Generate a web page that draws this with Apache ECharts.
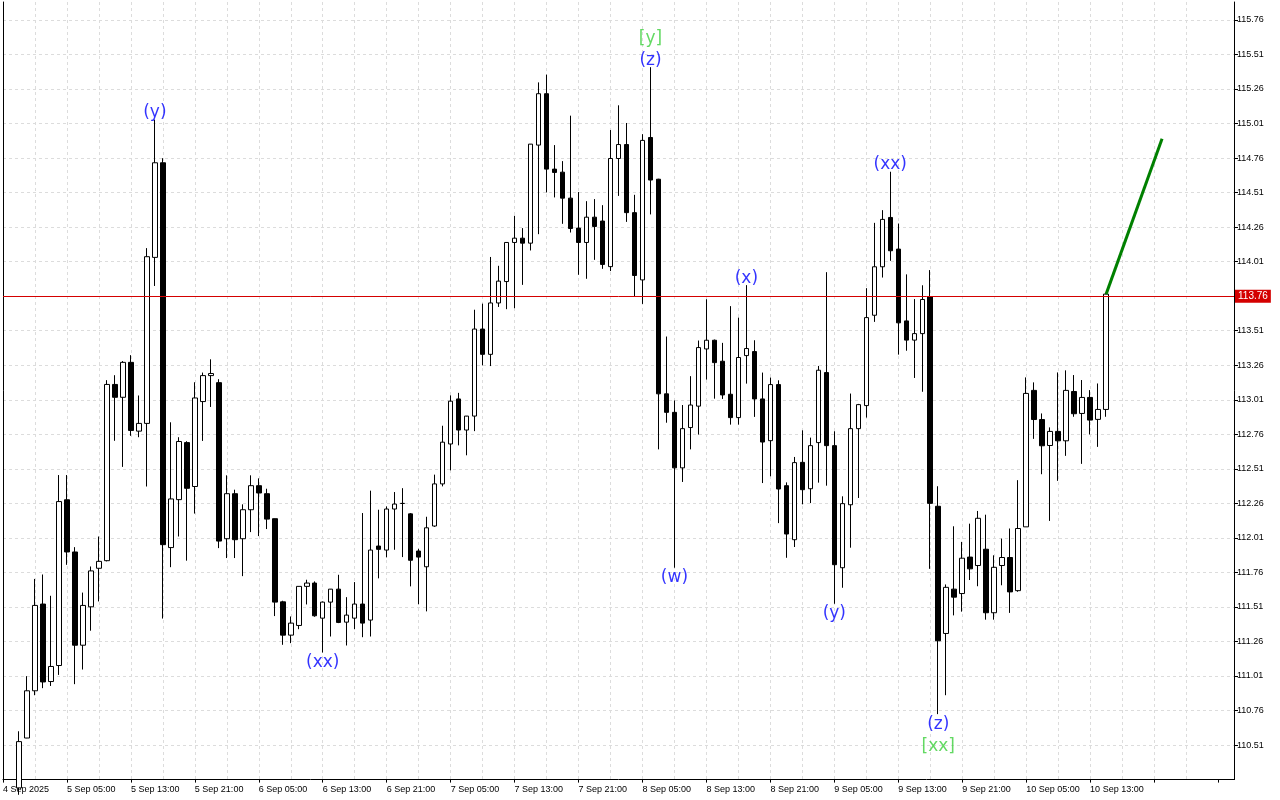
<!DOCTYPE html>
<html>
<head>
<meta charset="utf-8">
<title>H1 chart</title>
<script src="https://cdn.jsdelivr.net/npm/echarts@6/dist/echarts.min.js"></script>
<style>
  html, body { margin: 0; padding: 0; background: #fff; }
  #chart { width: 1280px; height: 800px; }
</style>
</head>
<body>
<div id="chart"></div>
<script>
// hourly bars; slot 0 is 4 Sep 21:00, the first drawn bar sits in slot 2
const firstBar = 2
const totalSlots = 155

const tickLabels = ['4 Sep 2025', '5 Sep 05:00', '5 Sep 13:00', '5 Sep 21:00', '6 Sep 05:00', '6 Sep 13:00',
  '6 Sep 21:00', '7 Sep 05:00', '7 Sep 13:00', '7 Sep 21:00', '8 Sep 05:00', '8 Sep 13:00',
  '8 Sep 21:00', '9 Sep 05:00', '9 Sep 13:00', '9 Sep 21:00', '10 Sep 05:00', '10 Sep 13:00']

const opens = [
  110.20, 110.561, 110.903, 111.531, 110.97, 111.086, 112.286, 111.908, 111.233, 111.511,
  111.79, 111.845, 113.121, 113.028, 113.281, 112.783, 112.839, 114.041, 114.726, 111.94,
  112.287, 112.70, 112.382, 112.997, 113.185, 113.134, 112.004, 112.33, 112.004, 112.214,
  112.388, 112.33, 112.149, 111.547, 111.306, 111.376, 111.659, 111.683, 111.429, 111.545,
  111.639, 111.40, 111.429, 111.531, 111.415, 111.951, 111.922, 112.219, 112.259, 112.184,
  111.915, 111.801, 112.096, 112.401, 112.69, 113.016, 112.791, 112.892, 113.522, 113.339,
  113.711, 113.866, 114.149, 114.18, 114.144, 114.854, 115.226, 114.68, 114.658, 114.47,
  114.253, 114.149, 114.332, 114.304, 113.974, 114.757, 114.858, 114.365, 113.878, 114.909,
  114.607, 113.053, 112.919, 112.517, 112.809, 112.964, 113.378, 113.441, 113.289, 113.05,
  112.881, 113.33, 113.359, 113.016, 112.714, 113.12, 112.388, 111.997, 112.557, 112.366,
  112.70, 113.207, 112.678, 111.794, 112.25, 112.801, 112.968, 113.622, 113.973, 114.33,
  114.101, 113.581, 113.442, 113.489, 113.757, 112.239, 111.318, 111.639, 111.607, 111.871,
  111.81, 111.928, 111.468, 111.81, 111.868, 111.628, 112.09, 113.078, 112.867, 112.679,
  112.781, 112.713, 113.07, 112.911, 113.027, 112.868, 112.94
]
const highs = [
  110.61, 111.009, 111.713, 111.745, 111.591, 112.465, 112.465, 111.943, 111.614, 111.803,
  112.02, 113.152, 113.188, 113.29, 113.333, 113.041, 114.108, 115.038, 114.759, 112.847,
  112.739, 112.71, 113.137, 113.207, 113.303, 113.159, 112.463, 112.359, 112.253, 112.463,
  112.441, 112.366, 112.15, 111.555, 111.441, 111.66, 111.707, 111.695, 111.55, 111.64,
  111.743, 111.581, 111.69, 112.19, 112.352, 112.214, 112.238, 112.342, 112.37, 112.19,
  111.931, 112.163, 112.468, 112.822, 113.042, 113.06, 112.89, 113.662, 113.706, 114.044,
  113.98, 114.15, 114.342, 114.253, 114.86, 115.308, 115.364, 114.854, 114.738, 115.067,
  114.514, 114.448, 114.463, 114.419, 114.963, 115.142, 115.014, 114.494, 114.933, 115.418,
  114.61, 113.468, 113.005, 112.972, 113.181, 113.439, 113.738, 113.446, 113.422, 113.688,
  113.605, 113.84, 113.441, 113.207, 113.171, 113.151, 112.412, 112.596, 112.789, 112.736,
  113.255, 113.934, 112.782, 112.311, 113.055, 112.98, 113.818, 114.291, 114.383, 114.661,
  114.286, 113.918, 113.739, 113.839, 113.949, 112.384, 111.673, 112.094, 111.981, 112.113,
  112.205, 112.178, 111.884, 112.005, 112.078, 112.428, 113.172, 113.136, 112.911, 112.81,
  113.208, 113.223, 113.189, 113.153, 113.08, 113.128, 113.785
]
const lows = [
  110.15, 110.56, 110.871, 110.922, 110.938, 111.018, 111.815, 110.951, 111.057, 111.338,
  111.55, 111.84, 112.713, 112.524, 112.749, 112.739, 112.382, 113.834, 111.426, 111.798,
  112.02, 111.845, 112.186, 112.712, 112.958, 111.936, 111.864, 111.864, 111.733, 112.052,
  112.023, 112.074, 111.444, 111.236, 111.248, 111.349, 111.528, 111.439, 111.18, 111.296,
  111.393, 111.231, 111.349, 111.291, 111.296, 111.717, 111.869, 111.924, 111.871, 111.659,
  111.53, 111.478, 112.09, 112.383, 112.499, 112.68, 112.608, 112.783, 113.259, 113.254,
  113.682, 113.666, 113.673, 113.842, 114.091, 114.209, 114.511, 114.475, 114.284, 114.221,
  113.915, 113.886, 114.023, 113.958, 113.942, 114.486, 114.298, 113.76, 113.704, 114.352,
  112.651, 112.844, 111.794, 112.415, 112.651, 112.758, 113.156, 113.018, 113.016, 112.83,
  112.83, 113.127, 112.886, 112.407, 112.456, 112.117, 111.866, 111.944, 112.253, 112.262,
  112.41, 112.388, 111.533, 111.649, 111.939, 112.299, 112.881, 113.574, 113.895, 114.016,
  113.337, 113.365, 113.168, 113.068, 111.786, 110.734, 110.871, 111.449, 111.476, 111.705,
  111.66, 111.418, 111.418, 111.667, 111.467, 111.62, 112.09, 112.727, 112.471, 112.133,
  112.423, 112.604, 112.887, 112.546, 112.759, 112.669, 112.887
]
const closes = [
  110.535, 110.903, 111.521, 110.967, 111.079, 112.273, 111.908, 111.233, 111.521, 111.771,
  111.84, 113.121, 113.028, 113.281, 112.788, 112.839, 114.046, 114.726, 111.961, 112.292,
  112.708, 112.369, 113.023, 113.185, 113.20, 111.987, 112.33, 111.997, 112.214, 112.388,
  112.335, 112.146, 111.545, 111.306, 111.393, 111.659, 111.683, 111.446, 111.545, 111.639,
  111.398, 111.451, 111.531, 111.393, 111.922, 111.927, 112.219, 112.255, 112.26, 111.848,
  111.871, 112.083, 112.401, 112.703, 113.00, 112.791, 112.892, 113.522, 113.339, 113.711,
  113.869, 114.149, 114.18, 114.144, 114.861, 115.226, 114.68, 114.656, 114.47, 114.25,
  114.149, 114.332, 114.265, 113.99, 114.757, 114.858, 114.365, 113.91, 114.888, 114.601,
  113.053, 112.919, 112.517, 112.801, 112.972, 113.388, 113.441, 113.279, 113.045, 112.881,
  113.316, 113.381, 113.016, 112.704, 113.12, 112.364, 112.038, 112.555, 112.359, 112.678,
  113.224, 112.678, 111.816, 112.258, 112.801, 112.975, 113.605, 113.973, 114.316, 114.089,
  113.567, 113.442, 113.489, 113.736, 112.26, 111.265, 111.652, 111.581, 111.863, 111.786,
  112.152, 111.468, 111.797, 111.868, 111.619, 112.078, 113.056, 112.867, 112.677, 112.781,
  112.713, 113.078, 112.909, 113.027, 112.863, 112.94, 113.775
]

const bidPrice = 113.76
const askPrice = 113.785

// projected move drawn from the last bar's close
const targetBar = 143
const targetPrice = 114.90

// wave marks: bar index, text, where it hangs
const waveMarks = [
  { bar: 17, text: '(y)', side: 'high' },
  { bar: 38, text: '(xx)', side: 'low' },
  { bar: 79, text: '(z)', side: 'high' },
  { bar: 82, text: '(w)', side: 'low' },
  { bar: 91, text: '(x)', side: 'high' },
  { bar: 102, text: '(y)', side: 'low' },
  { bar: 109, text: '(xx)', side: 'high' },
  { bar: 115, text: '(z)', side: 'low' }
]
const degreeMarks = [
  { bar: 79, text: '[y]', side: 'high' },
  { bar: 115, text: '[xx]', side: 'low' }
]

// category slots, one per hour
const categories = []
const t0 = Date.UTC(2025, 8, 4, 21)
for (let k = 0; k < totalSlots; k++) {
  categories.push(new Date(t0 + k * 3600000).toISOString().slice(0, 16).replace('T', ' '))
}

const candleData = opens.map((o, i) => [i + firstBar, o, closes[i], lows[i], highs[i]])
const lastBar = closes.length - 1

function markPoint(m, gapTop, gapBottom, color) {
  const isHigh = m.side === 'high'
  return {
    value: [m.bar + firstBar, isHigh ? highs[m.bar] : lows[m.bar]],
    label: {
      show: true,
      position: isHigh ? 'top' : 'bottom',
      distance: isHigh ? gapTop : gapBottom,
      formatter: m.text,
      color: color,
      fontFamily: 'DejaVu Sans',
      fontSize: 17
    }
  }
}

const axisFont = { fontFamily: 'Liberation Sans', fontSize: 9, color: '#000' }
const gridDash = { color: '#dcdcdc', width: 1, type: [3, 3] }

const chart = echarts.init(document.getElementById('chart'))
chart.setOption({
  animation: false,
  backgroundColor: '#fff',
  grid: { left: 2, right: 46, top: 2, bottom: 20.4 },
  xAxis: {
    type: 'category',
    data: categories,
    boundaryGap: false,
    axisLine: { show: true, lineStyle: { color: '#000' } },
    axisTick: { show: true, interval: 7, length: 3, lineStyle: { color: '#000' } },
    axisLabel: Object.assign({
      interval: 7,
      align: 'left',
      margin: 5,
      formatter: (v, idx) => tickLabels[idx / 8] || ''
    }, axisFont),
    splitLine: { show: true, interval: 3, showMinLine: false, showMaxLine: false, lineStyle: gridDash }
  },
  yAxis: [
    {
      type: 'value',
      position: 'right',
      min: 110.26,
      max: 115.89,
      interval: 0.25,
      axisLine: { show: true, lineStyle: { color: '#000', width: 1 } },
      axisTick: { show: true, length: 4, lineStyle: { color: '#000' } },
      axisLabel: Object.assign({
        margin: 3,
        showMinLabel: false,
        showMaxLabel: false,
        formatter: v => v.toFixed(2)
      }, axisFont),
      splitLine: { show: true, showMinLine: false, showMaxLine: false, lineStyle: gridDash }
    },
    {
      // left frame edge only
      type: 'value',
      position: 'left',
      min: 110.26,
      max: 115.89,
      axisLine: { show: true, lineStyle: { color: '#000', width: 1 } },
      axisTick: { show: false },
      axisLabel: { show: false },
      splitLine: { show: false }
    }
  ],
  series: [
    {
      name: 'price',
      type: 'candlestick',
      data: candleData,
      encode: { x: 0, y: [1, 2, 3, 4] },
      barWidth: 5,
      itemStyle: {
        color: '#fff',
        color0: '#000',
        borderColor: '#000',
        borderColor0: '#000',
        borderWidth: 1
      },
      markLine: {
        silent: true,
        symbol: ['none', 'none'],
        animation: false,
        data: [
          {
            yAxis: askPrice,
            lineStyle: { opacity: 0 },
            label: {
              show: true, position: 'end', distance: 1, formatter: askPrice.toFixed(2),
              backgroundColor: '#000', color: '#fff', padding: [2, 3, 1, 3],
              fontFamily: 'Liberation Sans', fontSize: 10
            }
          },
          {
            yAxis: bidPrice,
            lineStyle: { color: '#d40000', width: 1, type: 'solid' },
            label: {
              show: true, position: 'end', distance: 1, formatter: bidPrice.toFixed(2),
              backgroundColor: '#d40000', color: '#fff', padding: [2, 3, 1, 3],
              fontFamily: 'Liberation Sans', fontSize: 10
            }
          }
        ]
      }
    },
    {
      name: 'target',
      type: 'line',
      data: [[lastBar + firstBar, closes[lastBar]], [targetBar + firstBar, targetPrice]],
      symbol: 'none',
      lineStyle: { color: '#008000', width: 3 },
      z: 3
    },
    {
      name: 'waves',
      type: 'scatter',
      symbolSize: 1,
      itemStyle: { color: 'rgba(0,0,0,0)' },
      data: waveMarks.map(m => markPoint(m, -2, 1, '#0000ff')),
      z: 4
    },
    {
      name: 'degree',
      type: 'scatter',
      symbolSize: 1,
      itemStyle: { color: 'rgba(0,0,0,0)' },
      data: degreeMarks.map(m => markPoint(m, 20, 23, '#3ccf3c')),
      z: 4
    }
  ]
})
</script>
</body>
</html>
